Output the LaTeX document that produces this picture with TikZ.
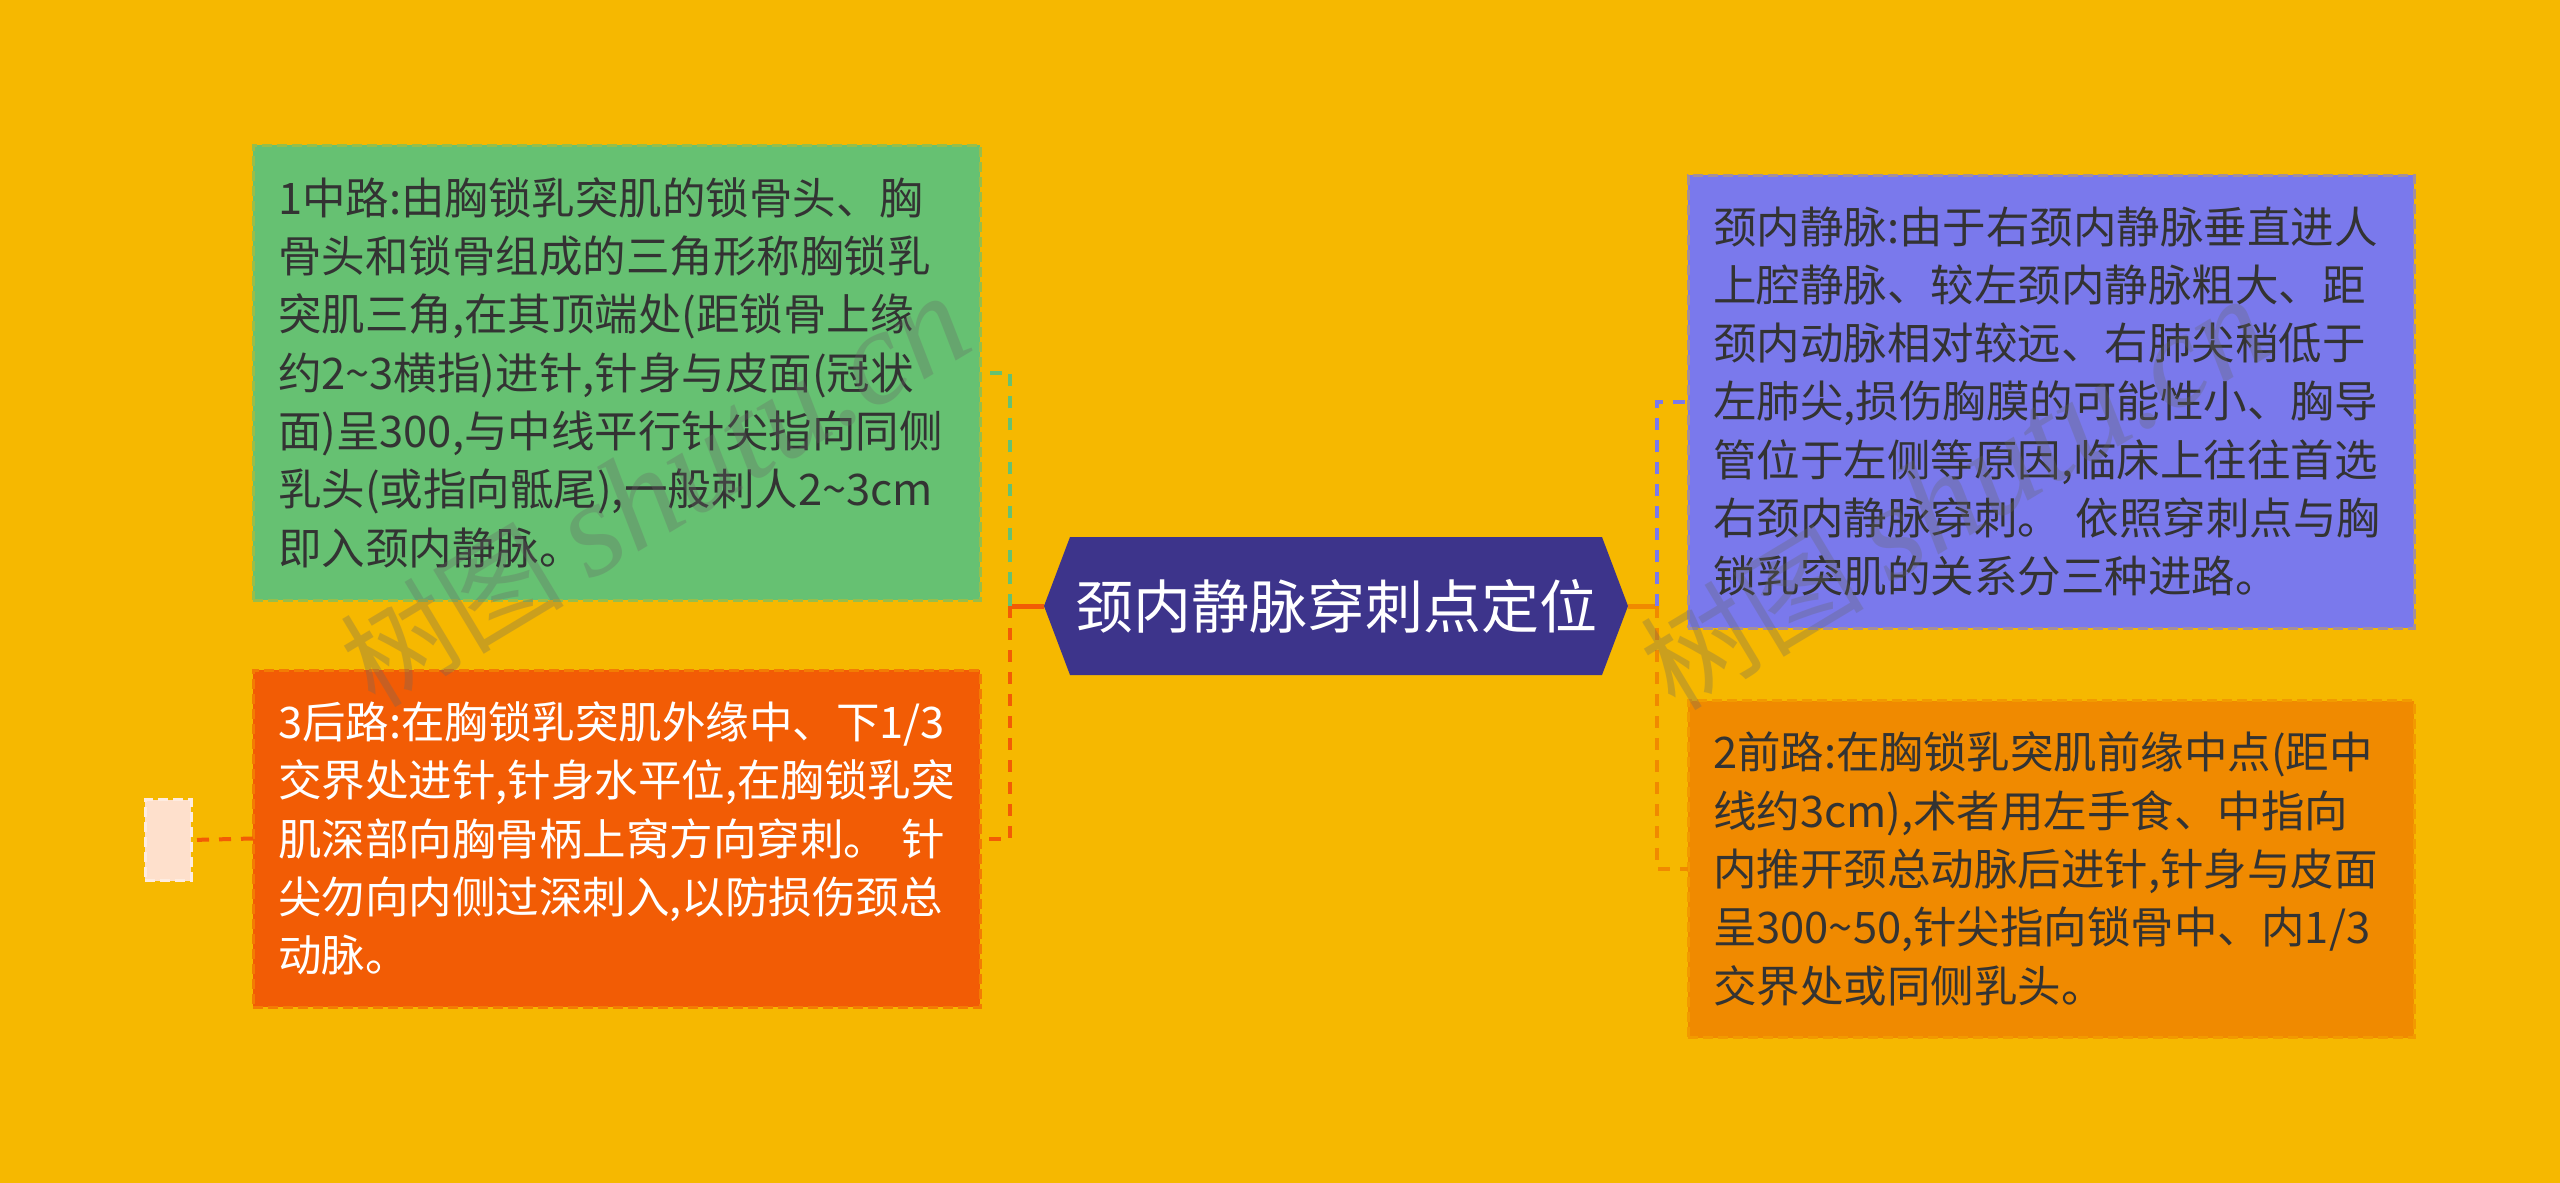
\documentclass[tikz,border=0pt]{standalone}
\usepackage{fontspec}
\setmainfont{Noto Sans CJK SC}
\newfontfamily\wmserif{Liberation Serif}
\definecolor{bg}{HTML}{F6B800}
\definecolor{gfill}{HTML}{66C172}
\definecolor{rfill}{HTML}{F25C05}
\definecolor{pfill}{HTML}{7A79EC}
\definecolor{ofill}{HTML}{F08A00}
\definecolor{cfill}{HTML}{3D348B}
\definecolor{sfill}{HTML}{FEE0CC}
\definecolor{dtext}{HTML}{333333}
\begin{document}
\begin{tikzpicture}[x=1pt,y=-1pt,
  boxbase/.style={rectangle, inner xsep=25pt, inner ysep=0pt, outer sep=0pt,
    align=left, line width=3pt, dash pattern=on 10pt off 5pt,
    font=\fontsize{43.5pt}{58.3pt}\selectfont},
  gbox/.style={boxbase, fill=gfill, draw=gfill!65!bg, text=dtext,
    minimum width=727pt, text width=677pt, minimum height=455pt},
  rbox/.style={boxbase, fill=rfill, draw=rfill!65!bg, text=white,
    minimum width=727pt, text width=677pt, minimum height=337pt},
  pbox/.style={boxbase, fill=pfill, draw=pfill!65!bg, text=dtext,
    minimum width=726pt, text width=676pt, minimum height=453pt},
  obox/.style={boxbase, fill=ofill, draw=ofill!65!bg, text=dtext,
    minimum width=726pt, text width=676pt, minimum height=337pt},
  sbox/.style={rectangle, fill=sfill, draw=white!40!sfill, line width=3pt,
    dash pattern=on 10pt off 5pt, minimum width=46pt, minimum height=81pt,
    inner sep=0pt, outer sep=0pt},
  hexbox/.style={rectangle, minimum width=584pt, minimum height=138pt,
    inner sep=0pt, outer sep=0pt, text=white,
    font=\fontsize{58pt}{58pt}\selectfont,
    path picture={
      \fill[cfill] (path picture bounding box.west)
        -- ([xshift=26pt]path picture bounding box.north west)
        -- ([xshift=-26pt]path picture bounding box.north east)
        -- (path picture bounding box.east)
        -- ([xshift=-26pt]path picture bounding box.south east)
        -- ([xshift=26pt]path picture bounding box.south west) -- cycle;}},
  link/.style={line width=4pt, dash pattern=on 12pt off 10pt},
  stem/.style={line width=5pt},
  wmark/.style={rotate=31, text=black!60, text opacity=0.3,
    font=\fontsize{112pt}{112pt}\selectfont}
]
\useasboundingbox[fill=bg] (0,0) rectangle (2560,1183);

\node[gbox] (g) at (616.5,372.5) {1中路:由胸锁乳突肌的锁骨头、胸\\
骨头和锁骨组成的三角形称胸锁乳\\
突肌三角,在其顶端处(距锁骨上缘\\
约2\textasciitilde3横指)进针,针身与皮面(冠状\\
面)呈300,与中线平行针尖指向同侧\\
乳头(或指向骶尾),一般刺人2\textasciitilde3cm\\
即入颈内静脉。};

\node[rbox] (r) at (616.5,838.5) {3后路:在胸锁乳突肌外缘中、下1/3\\
交界处进针,针身水平位,在胸锁乳突\\
肌深部向胸骨柄上窝方向穿刺。~针\\
尖勿向内侧过深刺入,以防损伤颈总\\
动脉。};

\node[sbox] (sm) at (168,840) {};

\node[hexbox] (c) at (1336,606) {颈内静脉穿刺点定位};

\node[pbox] (p) at (2051,401.5) {颈内静脉:由于右颈内静脉垂直进人\\
上腔静脉、较左颈内静脉粗大、距\\
颈内动脉相对较远、右肺尖稍低于\\
左肺尖,损伤胸膜的可能性小、胸导\\
管位于左侧等原因,临床上往往首选\\
右颈内静脉穿刺。~依照穿刺点与胸\\
锁乳突肌的关系分三种进路。};

\node[obox] (o) at (2051,869) {2前路:在胸锁乳突肌前缘中点(距中\\
线约3cm),术者用左手食、中指向\\
内推开颈总动脉后进针,针身与皮面\\
呈300\textasciitilde50,针尖指向锁骨中、内1/3\\
交界处或同侧乳头。};

\coordinate (jl) at (1010,606);
\coordinate (jr) at (1657,606);
\draw[stem, rfill] (c.west) -- (jl);
\draw[link, gfill] (jl) |- (g.east);
\draw[link, rfill] (jl) |- (r.east);
\draw[link, rfill] (r.west) -- (sm.east);
\draw[stem, ofill] (c.east) -- (jr);
\draw[link, pfill] (jr) |- (p.west);
\draw[link, ofill] (jr) |- (o.west);

\node[wmark] (wm1) at (655,492) {树图 {\wmserif\itshape\fontsize{135pt}{135pt}\selectfont shutu.cn}};
\node[wmark] (wm2) at (1955,495) {树图 {\wmserif\itshape\fontsize{135pt}{135pt}\selectfont shutu.cn}};
\end{tikzpicture}
\end{document}
